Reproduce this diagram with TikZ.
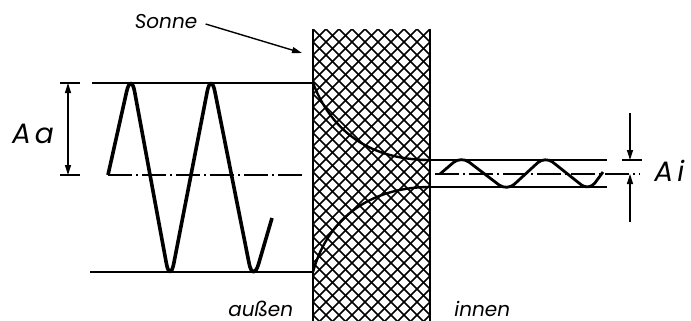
\documentclass[tikz,border=0pt]{standalone}
\usepackage{fontspec}
\setmainfont{Poppins}
\usetikzlibrary{arrows.meta}
\tikzset{
  wave/.style={line width=1.8pt,rounded corners=10pt,line join=round},
  decay/.style={line width=1.2pt},
  level/.style={line width=0.9pt},
  axis/.style={line width=0.6pt,dash pattern=on 12pt off 2pt on 1pt off 2pt},
  hatch/.style={line width=0.85pt},
  ext/.style={line width=0.6pt},
  dimline/.style={line width=0.6pt,{Triangle[length=5pt,width=3pt]}-{Triangle[length=5pt,width=3pt]}},
  dimarrow/.style={line width=0.6pt,-{Triangle[length=5pt,width=3pt]}},
  txt/.style={font=\itshape\fontsize{10}{12}\selectfont,inner sep=0pt},
  dimtxt/.style={font=\itshape\fontsize{14}{16}\selectfont,inner sep=0pt}
}

\begin{document}
\begin{tikzpicture}[x=0.5pt,y=-0.5pt]
  \useasboundingbox (0,0) rectangle (691,321);

  % wall
  \begin{scope}
    \clip (313,29) rectangle (430,330);
    \foreach \xk in {1,14,...,742} {
      \draw[hatch] (\xk,29) -- ++(300,300);
      \draw[hatch] (\xk,29) -- ++(-300,300);
    }
  \end{scope}
  \draw[level] (313,29) -- (313,321);
  \draw[level] (430,29) -- (430,321);

  % outside
  \draw[level] (92,83) -- (313,83);
  \draw[level] (90,272) -- (313,272);
  \draw[axis] (108,175) -- (305,175);
  \draw[wave] (108,175) -- (131,72) -- (170,283) -- (211,72) -- (253,283) -- (272,218);
  \draw[ext] (60,83) -- (80,83);
  \draw[ext] (60,175) -- (80,175);
  \coordinate (aatop) at (68,83);
  \coordinate (aabot) at (68,175);
  \draw[dimline] (aatop) -- (aabot);
  \node[dimtxt] (aa) at (33,134) {A\kern2pt a};

  % damping through the wall
  \draw[decay] (313,83) .. controls (335,140) and (380,160) .. (430,160);
  \draw[decay] (313,272) .. controls (330,210) and (380,187) .. (430,187);

  % inside
  \draw[wave,line width=1.4pt,rounded corners=5pt] (440,174) -- (461,156) -- (507,191)
    -- (545,156) -- (589,191) -- (603,172);
  \draw[level] (430,160) -- (607,160);
  \draw[level] (430,187) -- (607,187);
  \draw[axis] (435,174) -- (640,174);
  \draw[ext] (622,160) -- (642,160);
  \coordinate (aiup) at (630,160);
  \coordinate (aiupend) at (630,113);
  \coordinate (ailo) at (630,174);
  \coordinate (ailoend) at (630,222);
  \draw[dimarrow] (aiupend) -- (aiup);
  \draw[dimarrow] (ailoend) -- (ailo);
  \node[dimtxt,anchor=west] (ai) at (654,171) {A\kern2pt i};

  % labels
  \node[txt] (sonne) at (166,22) {Sonne};
  \coordinate (sun) at (302,53);
  \draw[dimarrow,line width=0.7pt] ([xshift=4pt,yshift=-1pt]sonne.east) -- (sun);
  \node[txt,anchor=base west] (aussen) at (228,316) {außen};
  \node[txt,anchor=base west] (innen) at (454,316) {innen};
\end{tikzpicture}
\end{document}
